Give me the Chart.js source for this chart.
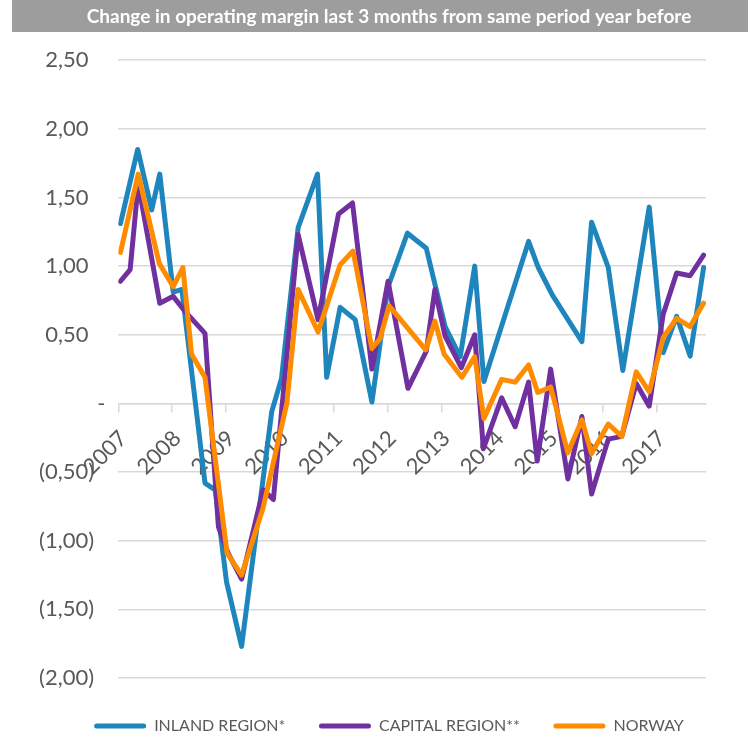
<!DOCTYPE html>
<html>
<head>
<meta charset="utf-8">
<script src="https://cdn.jsdelivr.net/npm/chart.js@4/dist/chart.umd.min.js"></script>
<style>
html,body{margin:0;padding:0;background:#fff;}
#wrap{width:748px;height:735px;}
</style>
</head>
<body>
<div id="wrap"><canvas id="c" width="748" height="735"></canvas></div>
<script>
// ---------- data ----------
const chartTitle = 'Change in operating margin last 3 months from same period year before';
const seriesNames = ['INLAND REGION*', 'CAPITAL REGION**', 'NORWAY'];
const yearLabels = ['2007','2008','2009','2010','2011','2012','2013','2014','2015','2016','2017'];

const inlandDates = [2007.04,2007.36,2007.62,2007.77,2008.02,2008.18,2008.61,2008.80,2009.01,2009.29,
  2009.85,2010.03,2010.34,2010.70,2010.87,2011.12,2011.40,2011.71,2012.01,2012.37,
  2012.72,2013.07,2013.35,2013.62,2013.79,2014.62,2014.80,2015.06,2015.61,2015.79,
  2016.10,2016.37,2016.86,2017.12,2017.37,2017.62,2017.87];
const inlandValues = [1.31,1.85,1.41,1.67,0.81,0.83,-0.58,-0.63,-1.30,-1.77,
  -0.06,0.18,1.28,1.67,0.19,0.70,0.61,0.01,0.85,1.24,
  1.13,0.56,0.34,1.00,0.16,1.18,0.99,0.79,0.45,1.32,
  0.99,0.24,1.43,0.37,0.635,0.345,0.99];

const capitalDates = [2007.04,2007.22,2007.37,2007.77,2008.02,2008.24,2008.61,2008.86,2009.04,2009.29,
  2009.69,2009.88,2010.34,2010.71,2011.09,2011.35,2011.71,2012.01,2012.38,2012.72,
  2012.88,2013.07,2013.37,2013.62,2013.78,2014.12,2014.37,2014.62,2014.78,2015.03,
  2015.35,2015.61,2015.79,2016.10,2016.35,2016.62,2016.86,2017.12,2017.37,2017.62,2017.87];
const capitalValues = [0.89,0.975,1.60,0.73,0.78,0.67,0.51,-0.90,-1.09,-1.28,
  -0.63,-0.70,1.23,0.61,1.38,1.46,0.25,0.89,0.11,0.38,
  0.83,0.49,0.26,0.50,-0.33,0.04,-0.17,0.155,-0.42,0.25,
  -0.55,-0.095,-0.66,-0.26,-0.24,0.145,-0.02,0.65,0.95,0.93,1.08];

const norwayDates = [2007.04,2007.37,2007.76,2008.02,2008.20,2008.36,2008.61,2009.02,2009.29,2009.69,
  2010.13,2010.34,2010.71,2011.12,2011.36,2011.71,2011.86,2012.03,2012.71,2012.88,
  2013.05,2013.38,2013.62,2013.79,2014.12,2014.37,2014.62,2014.79,2015.03,2015.35,
  2015.61,2015.79,2016.10,2016.35,2016.62,2016.86,2017.12,2017.37,2017.62,2017.87];
const norwayValues = [1.10,1.67,1.02,0.85,0.99,0.36,0.19,-1.09,-1.25,-0.76,
  0.00,0.83,0.52,1.01,1.11,0.40,0.47,0.71,0.39,0.60,
  0.36,0.19,0.34,-0.11,0.175,0.155,0.28,0.08,0.12,-0.36,
  -0.12,-0.365,-0.15,-0.24,0.23,0.085,0.48,0.62,0.56,0.73];

// ---------- style ----------
const colors = ['#1f86bd', '#7030a0', '#ff8c00'];
const textGray = '#595959';
const gridGray = '#d9d9d9';
const FONT = 'Lato';
const AXIS_SIZE = 22;
const LEGEND_SIZE = 16;

const meas = document.createElement('canvas').getContext('2d');
function spacesFor(px, font) {
  meas.font = font;
  const w = meas.measureText(' ').width || 4;
  return ' '.repeat(Math.max(0, Math.round(px / w)));
}
const yPosPad = spacesFor(15, AXIS_SIZE + 'px ' + FONT);
const yNegPad = spacesFor(10, AXIS_SIZE + 'px ' + FONT);
const legendGap = spacesFor(25, LEGEND_SIZE + 'px ' + FONT);

function fmtY(v) {
  if (Math.abs(v) < 1e-9) return '-';
  const s = Math.abs(v).toFixed(2).replace('.', ',');
  return v < 0 ? '(' + s + ')' + yNegPad : s + yPosPad;
}
function pts(dates, vals) { return dates.map((d, i) => ({x: d, y: vals[i]})); }

const titleBar = {
  id: 'titleBar',
  beforeDraw(chart) {
    const ctx = chart.ctx;
    ctx.save();
    ctx.fillStyle = '#ffffff';
    ctx.fillRect(0, 0, chart.width, chart.height);
    ctx.fillStyle = '#9d9d9d';
    ctx.fillRect(12, 0, chart.width - 12, 32);
    ctx.restore();
  }
};

function mkDs(i, dates, vals, order) {
  return {
    label: seriesNames[i],
    data: pts(dates, vals),
    borderColor: colors[i],
    backgroundColor: colors[i],
    borderWidth: 5,
    pointRadius: 0,
    pointHoverRadius: 0,
    tension: 0,
    borderJoinStyle: 'round',
    borderCapStyle: 'round',
    order: order
  };
}

new Chart(document.getElementById('c'), {
  type: 'line',
  data: {
    datasets: [
      mkDs(0, inlandDates, inlandValues, 3),
      mkDs(1, capitalDates, capitalValues, 2),
      mkDs(2, norwayDates, norwayValues, 1)
    ]
  },
  options: {
    responsive: false,
    animation: false,
    layout: { padding: { left: 30, right: 0, top: 0, bottom: -9 } },
    scales: {
      x: {
        type: 'linear',
        position: { y: 0 },
        min: 2007,
        max: 2017.915,
        ticks: {
          stepSize: 1,
          includeBounds: false,
          autoSkip: false,
          maxRotation: 45,
          minRotation: 45,
          padding: 14,
          labelOffset: 5,
          color: textGray,
          font: { family: FONT, size: AXIS_SIZE },
          callback: v => yearLabels[Math.round(v) - 2007] || ''
        },
        grid: { drawOnChartArea: false, drawTicks: true, tickLength: 8, color: gridGray, lineWidth: 1.5 },
        border: { display: true, color: gridGray, width: 1.5 }
      },
      y: {
        type: 'linear',
        position: 'left',
        min: -2,
        max: 2.5,
        ticks: {
          stepSize: 0.5,
          padding: 13,
          color: textGray,
          font: { family: FONT, size: AXIS_SIZE },
          callback: v => fmtY(v)
        },
        grid: { color: gridGray, lineWidth: 1.5, drawTicks: false },
        border: { display: false },
        afterFit: s => { s.width = 88.3; }
      },
      yR: {
        type: 'linear',
        axis: 'y',
        position: 'right',
        display: true,
        grid: { display: false },
        ticks: { display: false },
        border: { display: false },
        afterFit: s => { s.width = 42; }
      }
    },
    plugins: {
      tooltip: { enabled: false },
      title: {
        display: true,
        text: chartTitle,
        color: '#ffffff',
        font: { family: FONT, size: 19, weight: 'bold', lineHeight: 1.2 },
        padding: { top: 5, bottom: 32.4 }
      },
      legend: {
        position: 'bottom',
        title: { display: true, text: '', padding: { top: 16.6, bottom: 0 } },
        labels: {
          color: textGray,
          font: { family: FONT, size: LEGEND_SIZE },
          boxWidth: 52,
          boxHeight: 5,
          padding: 9,
          useBorderRadius: true,
          borderRadius: 2.5,
          generateLabels: chart => {
            const items = Chart.defaults.plugins.legend.labels.generateLabels(chart);
            items.sort((a, b) => a.datasetIndex - b.datasetIndex);
            items.forEach((it, k) => {
              it.lineWidth = 0;
              it.fillStyle = colors[it.datasetIndex];
              it.strokeStyle = colors[it.datasetIndex];
              if (k < items.length - 1) it.text = it.text + legendGap;
            });
            return items;
          }
        }
      }
    }
  },
  plugins: [titleBar]
});
</script>
</body>
</html>
